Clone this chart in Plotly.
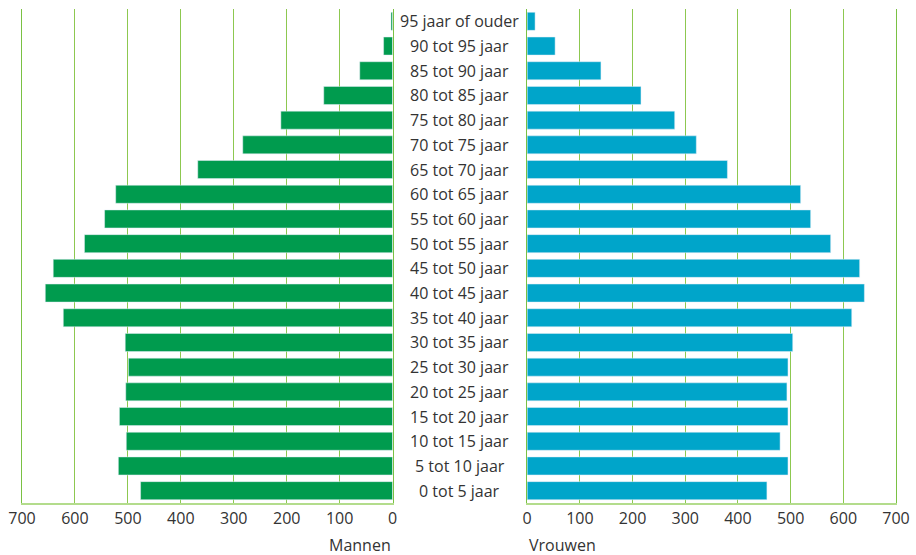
import plotly.graph_objects as go

# Age groups, from oldest (top) to youngest (bottom)
leeftijd = [
    "95 jaar of ouder", "90 tot 95 jaar", "85 tot 90 jaar", "80 tot 85 jaar",
    "75 tot 80 jaar", "70 tot 75 jaar", "65 tot 70 jaar", "60 tot 65 jaar",
    "55 tot 60 jaar", "50 tot 55 jaar", "45 tot 50 jaar", "40 tot 45 jaar",
    "35 tot 40 jaar", "30 tot 35 jaar", "25 tot 30 jaar", "20 tot 25 jaar",
    "15 tot 20 jaar", "10 tot 15 jaar", "5 tot 10 jaar", "0 tot 5 jaar",
]
mannen = [3, 17, 62, 130, 211, 283, 368, 523, 544, 582, 641, 656, 622, 505,
          499, 504, 516, 503, 518, 476]
vrouwen = [15, 53, 140, 216, 280, 321, 380, 519, 538, 576, 631, 640, 616, 504,
           495, 493, 495, 480, 495, 455]
x_ticks = [0, 100, 200, 300, 400, 500, 600, 700]

GREEN = "#009B4E"
BLUE = "#00A5CA"
GRID = "#8DC850"
EDGE = "#7AC143"
BASE = "#B3DC8C"
TEXT = "#333333"
FONT = "Open Sans"

left_dom = [0.0, 0.4240]
right_dom = [0.5780, 1.0]

fig = go.Figure()
fig.add_trace(go.Bar(x=mannen, y=leeftijd, orientation="h", marker_color=GREEN,
                     xaxis="x", yaxis="y", showlegend=False))
fig.add_trace(go.Bar(x=vrouwen, y=leeftijd, orientation="h", marker_color=BLUE,
                     xaxis="x2", yaxis="y2", showlegend=False))

axis_common = dict(
    tickvals=x_ticks, ticktext=[str(v) for v in x_ticks],
    showgrid=True, gridcolor=GRID, gridwidth=1,
    zeroline=False, showline=True, linecolor=BASE, linewidth=2,
    ticks="", tickfont=dict(family=FONT, size=16, color=TEXT),
    automargin=False, fixedrange=True,
)
# Vertical edge lines on both sides of each half (0 and 700)
yaxis_common = dict(
    type="category", categoryorder="array", categoryarray=leeftijd[::-1],
    range=[-0.5, len(leeftijd) - 0.5], showticklabels=False, showgrid=False,
    zeroline=False, showline=True, mirror=True, linecolor=EDGE, linewidth=1,
    ticks="", automargin=False, fixedrange=True,
)

fig.update_layout(
    width=916, height=555,
    margin=dict(l=22, r=20, t=9, b=52),
    paper_bgcolor="white", plot_bgcolor="white",
    bargap=0.27,
    xaxis=dict(domain=left_dom, range=[700, 0], anchor="y", **axis_common),
    xaxis2=dict(domain=right_dom, range=[0, 700], anchor="y2", **axis_common),
    yaxis=dict(anchor="x", side="right", **yaxis_common),
    yaxis2=dict(anchor="x2", side="left", **yaxis_common),
)

# Age-group labels in the gap between the two halves
mid = (left_dom[1] + right_dom[0]) / 2
for cat in leeftijd:
    fig.add_annotation(x=mid, xref="paper", y=cat, yref="y", text=cat,
                       showarrow=False, xanchor="center", yanchor="middle",
                       font=dict(family=FONT, size=16, color=TEXT))

# Axis titles under each half
fig.add_annotation(x=left_dom[1], xref="paper", y=0, yref="paper", yshift=-42,
                   text="Mannen", showarrow=False, xanchor="right", yanchor="middle",
                   font=dict(family=FONT, size=16, color=TEXT))
fig.add_annotation(x=right_dom[0], xref="paper", y=0, yref="paper", yshift=-42,
                   text="Vrouwen", showarrow=False, xanchor="left", yanchor="middle",
                   font=dict(family=FONT, size=16, color=TEXT))

fig.write_html("out.html")
